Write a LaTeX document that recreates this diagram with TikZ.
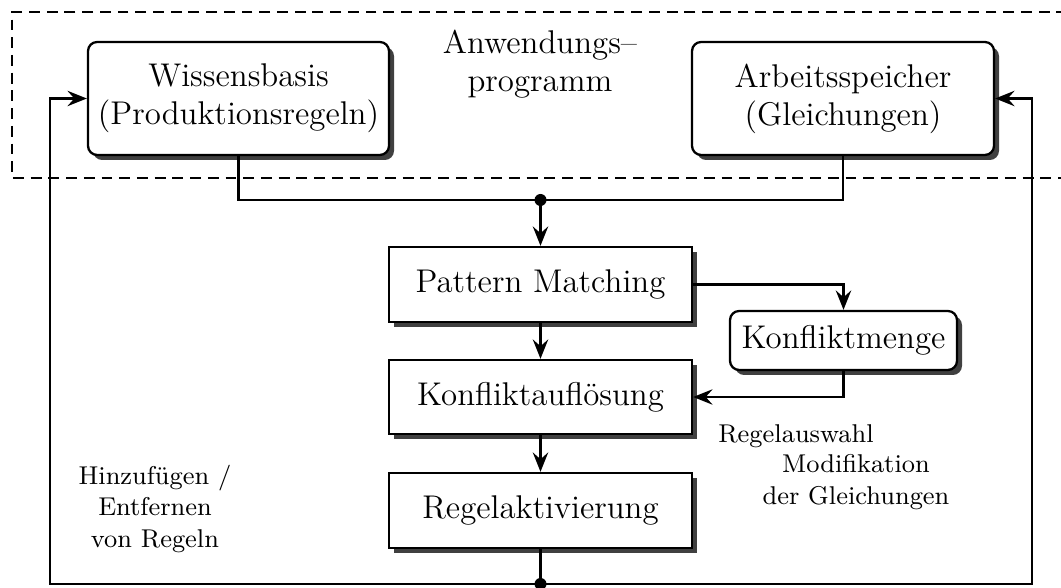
\documentclass[tikz,border=0pt]{standalone}
\usetikzlibrary{shadows,arrows.meta}
\begin{document}
\begin{tikzpicture}[x=0.35pt,y=-0.35pt, line width=0.8pt,
  box/.style={draw, fill=white, line width=0.8pt, inner sep=0pt, align=center,
    font=\fontsize{11.5}{13.3}\selectfont,
    general shadow={shadow xshift=1.75pt, shadow yshift=-1.75pt, fill=black!75}},
  rbox/.style={box, rounded corners=3.2pt},
  lbl/.style={align=center, font=\small},
  arr/.style={-{Stealth[length=6.8pt,width=5.4pt,inset=2.4pt]}},
  jdot/.style={circle, fill=black, inner sep=0pt, minimum size=4.2pt}]
\useasboundingbox (0,0) rectangle (1061,588);
% dashed application region
\draw[dash pattern=on 3.8pt off 2.4pt] (1085,12) -- (12,12) -- (12,178) -- (1085,178);
% nodes
\node[rbox, minimum width=105.35pt, minimum height=39.55pt] (WB) at (238.5,98.5) {Wissensbasis\\(Produktionsregeln)};
\node[rbox, minimum width=105.7pt, minimum height=39.55pt] (AS) at (843,98.5) {Arbeitsspeicher\\(Gleichungen)};
\node[align=center, font=\fontsize{11.5}{13.3}\selectfont] (AP) at (540,64) {Anwendungs--\\programm};
\node[box, minimum width=106.05pt, minimum height=26.25pt] (PM) at (540.5,284.5) {Pattern Matching};
\node[box, minimum width=106.05pt, minimum height=25.9pt] (KA) at (540.5,397) {Konfliktauflösung};
\node[box, minimum width=106.05pt, minimum height=26.25pt] (RA) at (540.5,510.5) {Regelaktivierung};
\node[rbox, minimum width=79.45pt, minimum height=20.65pt] (KM) at (843.5,340.5) {Konfliktmenge};
\node[lbl] (RW) at (796,436) {Regelauswahl};
\node[lbl] (HE) at (155,509) {Hinzufügen /\\Entfernen\\von Regeln};
\node[lbl] (MG) at (856,482) {Modifikation\\der Gleichungen};
% coordinates
\coordinate (J) at (540.5,200);
\coordinate (B) at (540.5,584);
\coordinate (BL) at (50,584);
\coordinate (BR) at (1032,584);
% connectors
\draw (WB.south) -- (WB.south |- J) -- (AS.south |- J) -- (AS.south);
\draw[arr] (J) -- (PM.north);
\node[jdot] (JD) at (J) {};
\draw[arr] (PM.south) -- (KA.north);
\draw[arr] (KA.south) -- (RA.north);
\draw[arr] (PM.east) -| (KM.north);
\draw[arr] (KM.south) |- (KA.east);
\draw (RA.south) -- (B);
\draw[arr] (B) -- (BL) |- (WB.west);
\draw[arr] (B) -- (BR) |- (AS.east);
\node[jdot] (BD) at (B) {};
\end{tikzpicture}
\end{document}
